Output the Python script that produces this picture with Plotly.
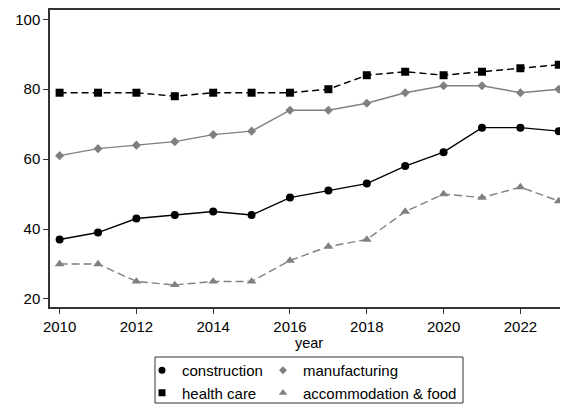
import plotly.graph_objects as go

years = list(range(2010, 2024))
construction = [37, 39, 43, 44, 45, 44, 49, 51, 53, 58, 62, 69, 69, 68]
health_care = [79, 79, 79, 78, 79, 79, 79, 80, 84, 85, 84, 85, 86, 87]
manufacturing = [61, 63, 64, 65, 67, 68, 74, 74, 76, 79, 81, 81, 79, 80]
accommodation = [30, 30, 25, 24, 25, 25, 31, 35, 37, 45, 50, 49, 52, 48]

x_ticks = [2010, 2012, 2014, 2016, 2018, 2020, 2022]
y_ticks = [20, 40, 60, 80, 100]

BLACK = "#000000"
GRAY = "#808080"
FONT = "Liberation Sans, Arial, sans-serif"

series = [
    ("construction", construction, BLACK, "solid", "circle", 8, "legend"),
    ("health care", health_care, BLACK, "7px,4px", "square", 8, "legend"),
    ("manufacturing", manufacturing, GRAY, "solid", "diamond", 7, "legend2"),
    ("accommodation & food", accommodation, GRAY, "8px,4px", "triangle-up", 8.5, "legend2"),
]

fig = go.Figure()
for name, vals, col, dash, sym, size, _ in series:
    fig.add_trace(go.Scatter(
        x=years, y=vals, mode="lines+markers", name=name, showlegend=False,
        cliponaxis=False,
        line=dict(color=col, width=1.4, dash=dash),
        marker=dict(color=col, symbol=sym, size=size),
    ))
# legend-only marker entries
for name, vals, col, dash, sym, size, lg in series:
    fig.add_trace(go.Scatter(
        x=[None], y=[None], mode="markers", name=name, legend=lg,
        marker=dict(color=col, symbol=sym, size=size - 1),
    ))

# page has an 8px body margin; page coords below are converted to figure coords
OFF = 8
W, H = 568 - OFF, 405 - OFF
L, R, T, B = 50 - OFF, 0, 10 - OFF, 98
pw = W - L - R
ph = H - T - B

def px2x(px):
    return (px - OFF - L) / pw

def py2y(py):
    return (H - B - (py - OFF)) / ph

fig.add_shape(type="rect", xref="paper", yref="paper",
              x0=px2x(155), x1=px2x(463), y0=py2y(403), y1=py2y(357),
              line=dict(color="#333333", width=1), fillcolor="rgba(0,0,0,0)")

leg_common = dict(xanchor="left", yanchor="top", bgcolor="rgba(0,0,0,0)",
                  borderwidth=0, font=dict(family=FONT, size=15, color="#000"),
                  orientation="v", tracegroupgap=0)

fig.update_layout(
    width=W, height=H,
    margin=dict(l=L, r=R, t=T, b=B, autoexpand=False),
    paper_bgcolor="white", plot_bgcolor="white",
    font=dict(family=FONT, size=15, color="#000"),
    legend=dict(x=px2x(142), y=py2y(354), **leg_common),
    legend2=dict(x=px2x(263), y=py2y(354), **leg_common),
    xaxis=dict(
        range=[2009.75, 2023.24], tickvals=x_ticks, ticks="outside", ticklen=5,
        tickcolor="#333", tickwidth=1, showline=True, linecolor="#333", linewidth=1.5,
        mirror=True, showgrid=False, zeroline=False,
        title=dict(text="year", font=dict(size=14.5), standoff=2),
        tickfont=dict(size=15),
    ),
    yaxis=dict(
        range=[17.7, 102.66], tickvals=y_ticks, ticks="outside", ticklen=5,
        tickcolor="#333", tickwidth=1, showline=True, linecolor="#333", linewidth=1.5,
        showgrid=False, zeroline=False, tickfont=dict(size=15),
    ),
)

fig.write_html("out.html")
